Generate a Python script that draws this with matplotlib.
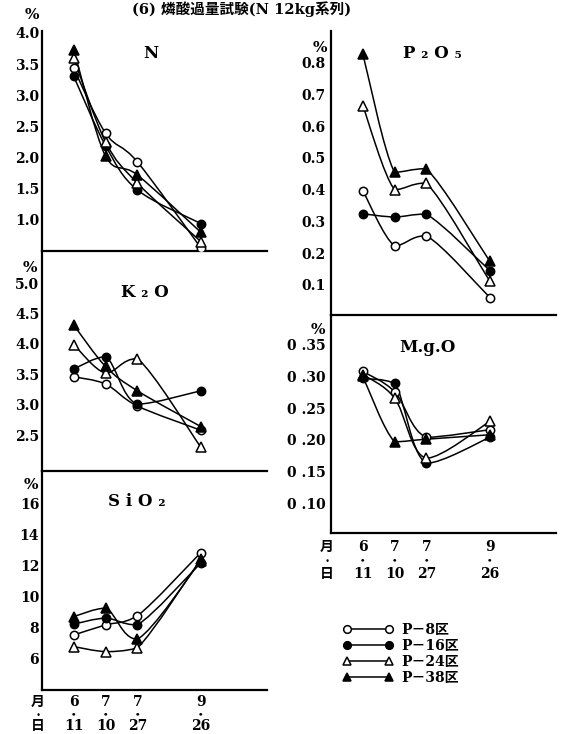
import matplotlib
matplotlib.use("Agg")
import matplotlib.pyplot as plt
from matplotlib.path import Path
from matplotlib.patches import PathPatch
from matplotlib.lines import Line2D

# ---------------- data ----------------
title = "(6) 燐酸過量試験(N 12kg系列)"
months = ["6", "7", "7", "9"]
days = ["11", "10", "27", "26"]
sample_order = [0, 1, 2, 4]
plot_names = ["P－8区", "P－16区", "P－24区", "P－38区"]

n_p8 = [3.43, 2.39, 1.93, 0.55]
n_p16 = [3.30, 2.19, 1.48, 0.94]
n_p24 = [3.59, 2.25, 1.59, 0.65]
n_p38 = [3.73, 2.02, 1.72, 0.80]

k_p8 = [3.46, 3.34, 2.98, 2.58]
k_p16 = [3.59, 3.79, 3.01, 3.23]
k_p24 = [3.99, 3.52, 3.76, 2.30]
k_p38 = [4.31, 3.63, 3.23, 2.64]

si_p8 = [7.50, 8.15, 8.73, 12.82]
si_p16 = [8.20, 8.58, 8.15, 12.15]
si_p24 = [6.75, 6.43, 6.65, 12.40]
si_p38 = [8.69, 9.23, 7.23, 12.30]

p_p8 = [0.397, 0.223, 0.255, 0.060]
p_p16 = [0.324, 0.314, 0.323, 0.145]
p_p24 = [0.665, 0.400, 0.421, 0.111]
p_p38 = [0.828, 0.455, 0.466, 0.174]

mg_p8 = [0.308, 0.276, 0.204, 0.216]
mg_p16 = [0.297, 0.289, 0.163, 0.204]
mg_p24 = [0.303, 0.266, 0.171, 0.229]
mg_p38 = [0.300, 0.197, 0.201, 0.208]

n_ticks = [1.0, 1.5, 2.0, 2.5, 3.0, 3.5, 4.0]
k_ticks = [2.5, 3.0, 3.5, 4.0, 4.5, 5.0]
si_ticks = [6, 8, 10, 12, 14, 16]
p_ticks = [0.1, 0.2, 0.3, 0.4, 0.5, 0.6, 0.7, 0.8]
mg_ticks = [0.10, 0.15, 0.20, 0.25, 0.30, 0.35]

# ---------------- styling ----------------
W, H = 563, 734
fig = plt.figure(figsize=(W / 100, H / 100), dpi=100)
fig.patch.set_facecolor("white")

SERIF = ["DejaVu Serif", "DejaVu Sans", "Noto Sans CJK JP"]
styles = [
    dict(marker="o", mfc="white", ms=6.0),
    dict(marker="o", mfc="black", ms=6.0),
    dict(marker="^", mfc="white", ms=6.5),
    dict(marker="^", mfc="black", ms=6.5),
]
LW = 1.1


def fx(x):
    return x / W


def fy(y):
    return 1 - y / H


def add_axes(left, top, right, bottom):
    return fig.add_axes([fx(left), fy(bottom), (right - left) / W, (bottom - top) / H])


def smooth_path(xs, ys):
    """Smooth hand-drawn style curve through the points (clamped Bezier)."""
    pts = list(zip(xs, ys))
    n = len(pts)
    verts = [pts[0]]
    codes = [Path.MOVETO]
    for i in range(n - 1):
        p0 = pts[i - 1] if i > 0 else pts[i]
        p1 = pts[i]
        p2 = pts[i + 1]
        p3 = pts[i + 2] if i + 2 < n else pts[i + 1]
        lo, hi = min(p1[1], p2[1]), max(p1[1], p2[1])
        c1y = min(max(p1[1] + (p2[1] - p0[1]) / 6, lo), hi)
        c2y = min(max(p2[1] - (p3[1] - p1[1]) / 6, lo), hi)
        c1 = (p1[0] + (p2[0] - p0[0]) / 6, c1y)
        c2 = (p2[0] - (p3[0] - p1[0]) / 6, c2y)
        verts += [c1, c2, p2]
        codes += [Path.CURVE4] * 3
    return Path(verts, codes)


def setup(ax, ylim, ticks, labels, pad):
    ax.set_xlim(-1.0, 6.08)
    ax.set_ylim(*ylim)
    ax.patch.set_alpha(0)
    for s in ["top", "right"]:
        ax.spines[s].set_visible(False)
    for s in ["left", "bottom"]:
        ax.spines[s].set_linewidth(1.6)
    ax.set_xticks([])
    ax.set_yticks(ticks)
    ax.set_yticklabels(labels, family=SERIF, fontweight="bold", fontsize=10)
    ax.tick_params(axis="y", length=0, pad=pad)


def draw_series(ax, series):
    for ys, st in zip(series, styles):
        ax.add_patch(PathPatch(smooth_path(sample_order, ys), facecolor="none",
                               edgecolor="black", lw=LW, zorder=2))
        ax.plot(sample_order, ys, linestyle="none", marker=st["marker"],
                mfc=st["mfc"], mec="black", mew=1.1, ms=st["ms"], zorder=3)


def date_labels(ax, offs):
    for x, m, d in zip(sample_order, months, days):
        for off, s in zip(offs, [m, "•", d]):
            ax.annotate(s, xy=(x, 0), xycoords=("data", "axes fraction"),
                        xytext=(0, off), textcoords="offset pixels",
                        ha="center", va="center", family=SERIF,
                        fontweight="bold", fontsize=10 if s != "•" else 6,
                        annotation_clip=False)
    for off, s in zip(offs, ["月", "•", "日"]):
        ax.annotate(s, xy=(0, 0), xycoords="axes fraction",
                    xytext=(-4, off), textcoords="offset pixels",
                    ha="center", va="center",
                    family=["Noto Sans CJK JP", "DejaVu Sans"],
                    fontweight="bold", fontsize=10 if s != "•" else 6,
                    annotation_clip=False)


# ---------------- panels ----------------
ax_n = add_axes(42, 31, 267, 251)
setup(ax_n, (0.5, 4.03), n_ticks, ["{:.1f}".format(t) for t in n_ticks], 2)
draw_series(ax_n, [n_p8, n_p16, n_p24, n_p38])

ax_k = add_axes(42, 251, 267, 471)
setup(ax_k, (1.91, 5.53), k_ticks, ["{:.1f}".format(t) for t in k_ticks], 2)
draw_series(ax_k, [k_p8, k_p16, k_p24, k_p38])

ax_si = add_axes(42, 471, 267, 690)
setup(ax_si, (3.95, 18.08), si_ticks, ["{:d}".format(t) for t in si_ticks], 2)
draw_series(ax_si, [si_p8, si_p16, si_p24, si_p38])
date_labels(ax_si, (-12, -24, -36))

ax_p = add_axes(331, 31, 556, 315)
setup(ax_p, (0.005, 0.90), p_ticks, ["{:.1f}".format(t) for t in p_ticks], 4)
draw_series(ax_p, [p_p8, p_p16, p_p24, p_p38])

ax_mg = add_axes(331, 315, 556, 533)
setup(ax_mg, (0.053, 0.397), mg_ticks,
      ["0 .{:02d}".format(int(round(t * 100))) for t in mg_ticks], 4)
draw_series(ax_mg, [mg_p8, mg_p16, mg_p24, mg_p38])
date_labels(ax_mg, (-14, -27, -41))

# ---------------- texts ----------------
def ftext(x, y, s, size=10, **kw):
    fig.text(fx(x), fy(y), s, ha="center", va="center", family=SERIF,
             fontweight="bold", fontsize=size, **kw)


for x, y in [(32, 15), (30, 268), (31, 485), (320, 48), (318, 330)]:
    ftext(x, y, "%", size=11)

ftext(151, 53, "N", size=12)
ftext(145, 293, "K ₂ O", size=12)
ftext(137, 502, "S i O ₂", size=12)
ftext(432, 53, "P ₂ O ₅", size=12)
ftext(427, 348, "M.g.O", size=12)

fig.text(fx(242), fy(1), title, ha="center", va="top",
         family=["DejaVu Serif", "Noto Sans CJK JP"], fontweight="bold",
         fontsize=10.5)

# ---------------- legend ----------------
handles = [Line2D([0], [0], color="black", lw=LW, marker=st["marker"],
                  mfc=st["mfc"], mec="black", mew=1.1, ms=st["ms"] - 0.5)
           for st in styles]
fig.legend(handles, plot_names, loc="upper left",
           bbox_to_anchor=(fx(343), fy(623)), frameon=False, numpoints=2,
           handlelength=3.6, handletextpad=0.6, labelspacing=0.15,
           borderpad=0, borderaxespad=0,
           prop=dict(family=["DejaVu Serif", "Noto Sans CJK JP"],
                     weight="bold", size=10))

fig.savefig("out.png", dpi=100, facecolor="white")
